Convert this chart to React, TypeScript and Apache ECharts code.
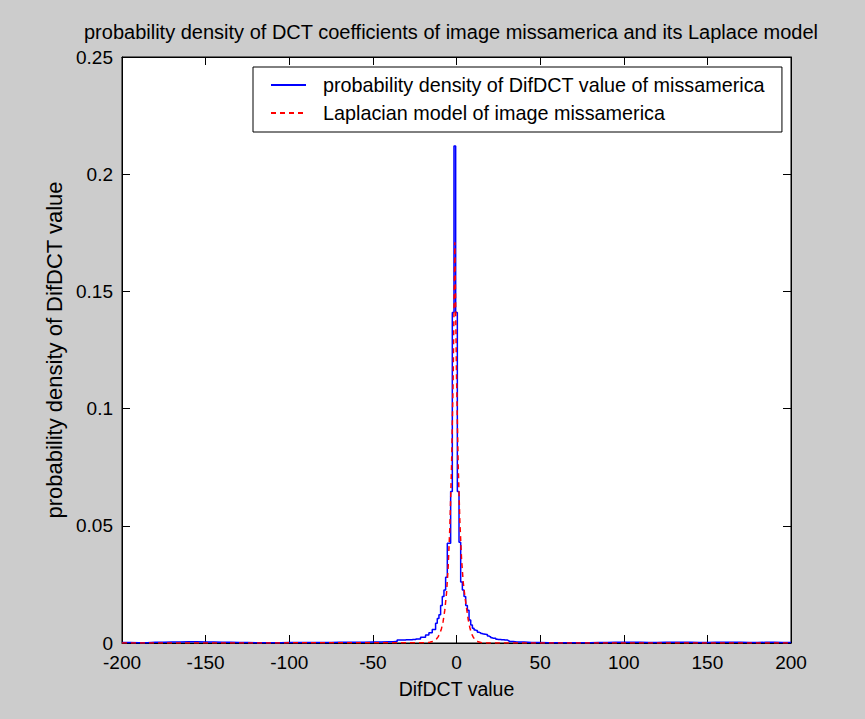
import React, { useEffect, useRef } from "react";
import * as echarts from "echarts";

const titleText =
  "probability density of DCT coefficients of image missamerica and its Laplace model";
const xName = "DifDCT value";
const yName = "probability density of DifDCT value";
const blueName = "probability density of DifDCT value of missamerica";
const redName = "Laplacian model of image missamerica";

const blueX = [
  -200, -190, -180, -170, -160, -150, -140, -130, -120, -110, -100, -90, -80, -70, -60, -50, -40, -36,
  -35, -34, -33, -32, -31, -30, -29, -28, -27, -26, -25, -24, -23, -22, -21, -20, -19, -18, -17, -16,
  -15, -14, -13, -12, -11, -10, -9, -8, -7, -6, -5, -4, -3, -2, -1, 0, 1, 2, 3, 4, 5, 6, 7, 8, 9, 10,
  11, 12, 13, 14, 15, 16, 17, 18, 19, 20, 21, 22, 23, 24, 25, 26, 27, 28, 29, 30, 31, 32,
  36, 45, 55, 65, 75, 85, 95, 105, 115, 125, 135, 145, 155, 165, 175, 185, 195, 200,
];
const blueY = [
  0.0002, 0.0001, 0.0003, 0.0004, 0.0005, 0.0004, 0.0003, 0.0002, 0.0001, 0.0001, 0.0002, 0.0002, 0.0002, 0.0003, 0.0003, 0.0004, 0.0005, 0.0006,
  0.0013, 0.0013, 0.0013, 0.0013, 0.0013, 0.0014, 0.0014, 0.0014, 0.0014, 0.0015, 0.0015, 0.0017, 0.0017, 0.0017, 0.0024, 0.0024, 0.0024, 0.0034, 0.0034, 0.0044,
  0.0044, 0.0058, 0.0058, 0.0084, 0.0105, 0.012, 0.016, 0.0198, 0.0226, 0.028, 0.0426, 0.0426, 0.0646, 0.141, 0.212, 0.141, 0.0646, 0.043, 0.026, 0.0226, 0.0198, 0.016, 0.014, 0.0098, 0.0077, 0.0063,
  0.0055, 0.0053, 0.0046, 0.0044, 0.004, 0.0038, 0.0037, 0.0036, 0.003, 0.0027, 0.0022, 0.002, 0.002, 0.0016, 0.0015, 0.0015, 0.0014, 0.0014, 0.0013, 0.0013, 0.001, 0.0006,
  0.0004, 0.0002, 0.0001, 0.0001, 0.0001, 0.0002, 0.0003, 0.0003, 0.0002, 0.0003, 0.0003, 0.0002, 0.0003, 0.0003, 0.0002, 0.0003, 0.0002, 0.0002,
];

// Laplacian model (red dashed)
const redX = [
  -200, -18, -17, -16, -15, -14, -13, -12, -11, -10, -9, -8, -7, -6, -5, -4, -3, -2, -1, 0, 1, 2, 3, 4,
  5, 6, 7, 8, 9, 10, 11, 12, 13, 14, 15, 16, 200,
];
const redY = [
  0, 0.0001, 0.0002, 0.0003, 0.0005, 0.0007, 0.0011, 0.0017, 0.0026, 0.004, 0.0061, 0.0092, 0.014, 0.021, 0.032, 0.049, 0.074, 0.113, 0.171, 0.115, 0.076, 0.052, 0.036, 0.026,
  0.02, 0.015, 0.01, 0.0065, 0.004, 0.0025, 0.0015, 0.0009, 0.0005, 0.0003, 0.0001, 0, 0,
];

const FONT = "'Liberation Sans', Arial, sans-serif";

export default function App() {
  const ref = useRef<HTMLDivElement>(null);
  useEffect(() => {
    if (!ref.current) return;
    const chart = echarts.init(ref.current, undefined, { renderer: "svg" });
    const axisCommon = {
      type: "value" as const,
      axisLine: { show: true, onZero: false, lineStyle: { color: "#000", width: 1 } },
      axisTick: { show: true, inside: true, length: 8, lineStyle: { color: "#000", width: 1 } },
      splitLine: { show: false },
    };
    chart.setOption({
      animation: false,
      backgroundColor: "#cccccc",
      textStyle: { fontFamily: FONT },
      title: {
        text: titleText,
        left: 84,
        top: 22,
        padding: 0,
        textStyle: { fontSize: 20, fontWeight: "normal", color: "#000", fontFamily: FONT },
      },
      legend: {
        orient: "vertical",
        left: 253,
        top: 67,
        padding: [8, 17, 9, 17],
        itemWidth: 35,
        itemHeight: 14,
        itemGap: 8,
        backgroundColor: "#fff",
        borderColor: "#000",
        borderWidth: 1,
        itemStyle: { opacity: 0, borderWidth: 0 },
        textStyle: { fontSize: 19.8, color: "#000", fontFamily: FONT, lineHeight: 20, padding: [0, 0, 0, 12] },
        data: [blueName, redName],
      },
      grid: {
        left: 122,
        right: 74,
        top: 57,
        bottom: 76,
        show: true,
        backgroundColor: "#fff",
        borderColor: "#000",
        borderWidth: 1,
      },
      xAxis: [
        {
          ...axisCommon,
          position: "bottom",
          min: -200,
          max: 200,
          interval: 50,
          axisLabel: { color: "#000", fontSize: 19, margin: 10, fontFamily: FONT },
          name: xName,
          nameLocation: "middle",
          nameGap: 36,
          nameTextStyle: { color: "#000", fontSize: 19.5, fontFamily: FONT },
        },
        {
          ...axisCommon,
          position: "top",
          min: -200,
          max: 200,
          interval: 50,
          axisLabel: { show: false },
        },
      ],
      yAxis: [
        {
          ...axisCommon,
          position: "left",
          min: 0,
          max: 0.25,
          interval: 0.05,
          axisLabel: { color: "#000", fontSize: 19, margin: 9, fontFamily: FONT },
          name: yName,
          nameLocation: "middle",
          nameRotate: 90,
          nameGap: 43,
          nameTextStyle: { color: "#000", fontSize: 22, fontFamily: FONT },
        },
        {
          ...axisCommon,
          position: "right",
          min: 0,
          max: 0.25,
          interval: 0.05,
          axisLabel: { show: false },
        },
      ],
      series: [
        {
          name: blueName,
          type: "line",
          step: "middle",
          symbol: "none",
          showSymbol: false,
          xAxisIndex: 0,
          yAxisIndex: 0,
          lineStyle: { color: "#0000ff", width: 1.5 },
          itemStyle: { color: "#0000ff" },
          data: blueX.map((x, i) => [x, blueY[i]]),
        },
        {
          name: redName,
          type: "line",
          symbol: "none",
          showSymbol: false,
          xAxisIndex: 0,
          yAxisIndex: 0,
          lineStyle: { color: "#ff0000", width: 1.5, type: [5, 4] },
          itemStyle: { color: "#ff0000" },
          data: redX.map((x, i) => [x, redY[i]]),
        },
      ],
    });
    return () => chart.dispose();
  }, []);
  return (
    <div
      ref={ref}
      style={{ position: "fixed", left: 0, top: 0, width: 865, height: 719 }}
    />
  );
}
